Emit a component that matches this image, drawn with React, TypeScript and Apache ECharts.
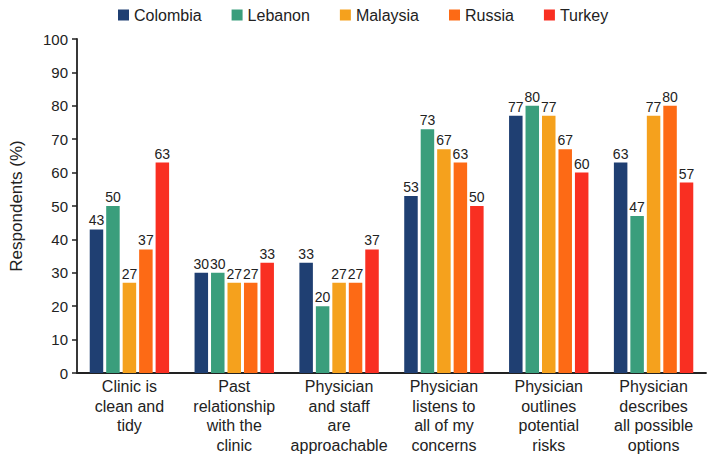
import React, { useEffect, useRef } from "react";
import * as echarts from "echarts";

const categories = [
  "Clinic is\nclean and\ntidy",
  "Past\nrelationship\nwith the\nclinic",
  "Physician\nand staff\nare\napproachable",
  "Physician\nlistens to\nall of my\nconcerns",
  "Physician\noutlines\npotential\nrisks",
  "Physician\ndescribes\nall possible\noptions",
];
const seriesNames = ["Colombia", "Lebanon", "Malaysia", "Russia", "Turkey"];
const colors = ["#1f3f72", "#3a9e7c", "#f5a11d", "#fd6a15", "#f92f22"];
const colombia = [43, 30, 33, 53, 77, 63];
const lebanon = [50, 30, 20, 73, 80, 47];
const malaysia = [27, 27, 27, 67, 77, 77];
const russia = [37, 27, 27, 63, 67, 80];
const turkey = [63, 33, 37, 50, 60, 57];
const values = [colombia, lebanon, malaysia, russia, turkey];

export default function App() {
  const ref = useRef<HTMLDivElement>(null);
  useEffect(() => {
    if (!ref.current) return;
    const chart = echarts.init(ref.current, null, { renderer: "svg" });
    const font = "Arial, 'Liberation Sans', sans-serif";
    chart.setOption({
      animation: false,
      textStyle: { fontFamily: font },
      legend: {
        top: 2,
        left: 113,
        itemWidth: 11,
        itemHeight: 11,
        itemGap: 30,
        icon: "rect",
        textStyle: { fontSize: 16, color: "#222", fontFamily: font },
        data: seriesNames,
      },
      grid: { left: 62, right: 3, top: 39, bottom: 83, containLabel: false },
      xAxis: {
        type: "category",
        data: categories,
        axisLine: { lineStyle: { color: "#222", width: 1.8 } },
        axisTick: { show: false },
        axisLabel: {
          interval: 0,
          fontSize: 16,
          color: "#222",
          lineHeight: 19.5,
          margin: 4,
          fontFamily: font,
        },
      },
      yAxis: {
        type: "value",
        min: 0,
        max: 100,
        interval: 10,
        name: "Respondents (%)",
        nameLocation: "middle",
        nameGap: 52,
        nameTextStyle: { fontSize: 17, color: "#222", fontFamily: font },
        axisLine: { show: true, lineStyle: { color: "#222", width: 1.8 } },
        axisTick: { show: true, length: 5, lineStyle: { color: "#222", width: 1.5 } },
        splitLine: { show: false },
        axisLabel: { fontSize: 15, color: "#222", margin: 9, fontFamily: font },
      },
      series: seriesNames.map((name, i) => ({
        name,
        type: "bar",
        data: values[i],
        barWidth: 13.5,
        barGap: "22%",
        itemStyle: { color: colors[i] },
        label: {
          show: true,
          position: "top",
          distance: 2,
          fontSize: 14,
          color: "#222",
          fontFamily: font,
        },
      })),
    });
    return () => chart.dispose();
  }, []);
  return (
    <div
      ref={ref}
      style={{ position: "absolute", left: 0, top: 0, width: 709, height: 456 }}
    />
  );
}
